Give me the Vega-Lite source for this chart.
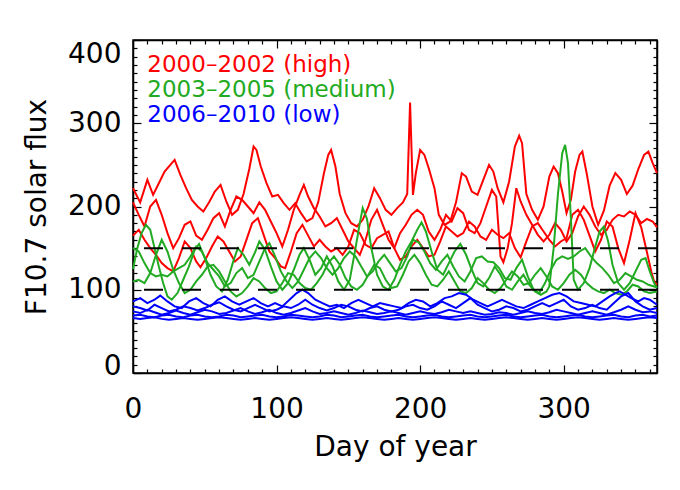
{
"$schema":"https://vega.github.io/schema/vega-lite/v6.json",
"width":524,"height":333,
"autosize":{"type":"none"},
"padding":{"left":133,"top":40,"right":23,"bottom":117},
"background":"white",
"config":{"view":{"stroke":"black","strokeWidth":1.5},
"axis":{"domainColor":"black","domainWidth":1.5,"tickColor":"black","tickWidth":1.2,"labelColor":"black","titleColor":"black","labelFont":"DejaVu Sans","titleFont":"DejaVu Sans","labelFontSize":28,"titleFontSize":28,"titleFontWeight":"normal","grid":false,"labelOverlap":false,"labelBound":false}},
"datasets":{
"flux":[
{"id":"r1","day":0,"flux":222},{"id":"r1","day":5,"flux":205},{"id":"r1","day":10,"flux":232},{"id":"r1","day":14,"flux":214},{"id":"r1","day":18,"flux":228},{"id":"r1","day":22,"flux":242},{"id":"r1","day":26,"flux":250},{"id":"r1","day":29,"flux":256},{"id":"r1","day":33,"flux":238},{"id":"r1","day":37,"flux":222},{"id":"r1","day":41,"flux":208},{"id":"r1","day":45,"flux":200},{"id":"r1","day":49,"flux":194},{"id":"r1","day":53,"flux":205},{"id":"r1","day":57,"flux":218},{"id":"r1","day":61,"flux":226},{"id":"r1","day":65,"flux":206},{"id":"r1","day":69,"flux":190},{"id":"r1","day":73,"flux":196},{"id":"r1","day":77,"flux":215},{"id":"r1","day":81,"flux":245},{"id":"r1","day":84,"flux":272},{"id":"r1","day":86,"flux":268},{"id":"r1","day":89,"flux":248},{"id":"r1","day":93,"flux":228},{"id":"r1","day":97,"flux":212},{"id":"r1","day":101,"flux":214},{"id":"r1","day":105,"flux":204},{"id":"r1","day":109,"flux":196},{"id":"r1","day":113,"flux":204},{"id":"r1","day":117,"flux":192},{"id":"r1","day":121,"flux":182},{"id":"r1","day":125,"flux":186},{"id":"r1","day":129,"flux":205},{"id":"r1","day":133,"flux":240},{"id":"r1","day":136,"flux":262},{"id":"r1","day":138,"flux":268},{"id":"r1","day":141,"flux":248},{"id":"r1","day":144,"flux":215},{"id":"r1","day":148,"flux":192},{"id":"r1","day":152,"flux":180},{"id":"r1","day":156,"flux":176},{"id":"r1","day":160,"flux":184},{"id":"r1","day":164,"flux":200},{"id":"r1","day":168,"flux":222},{"id":"r1","day":172,"flux":210},{"id":"r1","day":176,"flux":196},{"id":"r1","day":180,"flux":190},{"id":"r1","day":184,"flux":198},{"id":"r1","day":188,"flux":205},{"id":"r1","day":191,"flux":215},{"id":"r1","day":193,"flux":325},{"id":"r1","day":195,"flux":214},{"id":"r1","day":197,"flux":240},{"id":"r1","day":200,"flux":268},{"id":"r1","day":203,"flux":262},{"id":"r1","day":206,"flux":246},{"id":"r1","day":210,"flux":222},{"id":"r1","day":213,"flux":190},{"id":"r1","day":217,"flux":178},{"id":"r1","day":221,"flux":182},{"id":"r1","day":225,"flux":205},{"id":"r1","day":229,"flux":240},{"id":"r1","day":232,"flux":236},{"id":"r1","day":236,"flux":218},{"id":"r1","day":240,"flux":214},{"id":"r1","day":244,"flux":232},{"id":"r1","day":248,"flux":250},{"id":"r1","day":251,"flux":242},{"id":"r1","day":254,"flux":222},{"id":"r1","day":258,"flux":205},{"id":"r1","day":262,"flux":230},{"id":"r1","day":266,"flux":272},{"id":"r1","day":269,"flux":285},{"id":"r1","day":271,"flux":276},{"id":"r1","day":274,"flux":215},{"id":"r1","day":278,"flux":196},{"id":"r1","day":282,"flux":184},{"id":"r1","day":286,"flux":200},{"id":"r1","day":290,"flux":236},{"id":"r1","day":293,"flux":248},{"id":"r1","day":296,"flux":240},{"id":"r1","day":299,"flux":218},{"id":"r1","day":302,"flux":192},{"id":"r1","day":305,"flux":208},{"id":"r1","day":308,"flux":242},{"id":"r1","day":311,"flux":262},{"id":"r1","day":313,"flux":266},{"id":"r1","day":316,"flux":240},{"id":"r1","day":320,"flux":200},{"id":"r1","day":324,"flux":178},{"id":"r1","day":328,"flux":195},{"id":"r1","day":332,"flux":225},{"id":"r1","day":336,"flux":240},{"id":"r1","day":340,"flux":232},{"id":"r1","day":344,"flux":215},{"id":"r1","day":348,"flux":225},{"id":"r1","day":352,"flux":245},{"id":"r1","day":356,"flux":262},{"id":"r1","day":359,"flux":266},{"id":"r1","day":362,"flux":252},{"id":"r1","day":365,"flux":240},
{"id":"r2","day":0,"flux":205},{"id":"r2","day":4,"flux":190},{"id":"r2","day":8,"flux":176},{"id":"r2","day":12,"flux":200},{"id":"r2","day":16,"flux":208},{"id":"r2","day":20,"flux":190},{"id":"r2","day":24,"flux":168},{"id":"r2","day":28,"flux":150},{"id":"r2","day":32,"flux":162},{"id":"r2","day":36,"flux":178},{"id":"r2","day":40,"flux":182},{"id":"r2","day":44,"flux":165},{"id":"r2","day":48,"flux":160},{"id":"r2","day":52,"flux":172},{"id":"r2","day":56,"flux":186},{"id":"r2","day":60,"flux":192},{"id":"r2","day":64,"flux":176},{"id":"r2","day":68,"flux":196},{"id":"r2","day":72,"flux":212},{"id":"r2","day":76,"flux":208},{"id":"r2","day":80,"flux":200},{"id":"r2","day":84,"flux":192},{"id":"r2","day":88,"flux":205},{"id":"r2","day":92,"flux":196},{"id":"r2","day":96,"flux":182},{"id":"r2","day":100,"flux":168},{"id":"r2","day":104,"flux":152},{"id":"r2","day":108,"flux":172},{"id":"r2","day":112,"flux":196},{"id":"r2","day":116,"flux":214},{"id":"r2","day":119,"flux":226},{"id":"r2","day":122,"flux":212},{"id":"r2","day":126,"flux":198},{"id":"r2","day":130,"flux":188},{"id":"r2","day":134,"flux":176},{"id":"r2","day":138,"flux":180},{"id":"r2","day":142,"flux":186},{"id":"r2","day":146,"flux":172},{"id":"r2","day":150,"flux":158},{"id":"r2","day":154,"flux":150},{"id":"r2","day":158,"flux":142},{"id":"r2","day":162,"flux":160},{"id":"r2","day":166,"flux":184},{"id":"r2","day":170,"flux":196},{"id":"r2","day":174,"flux":178},{"id":"r2","day":178,"flux":160},{"id":"r2","day":182,"flux":150},{"id":"r2","day":186,"flux":168},{"id":"r2","day":190,"flux":178},{"id":"r2","day":194,"flux":190},{"id":"r2","day":198,"flux":196},{"id":"r2","day":202,"flux":190},{"id":"r2","day":206,"flux":170},{"id":"r2","day":210,"flux":160},{"id":"r2","day":214,"flux":172},{"id":"r2","day":218,"flux":190},{"id":"r2","day":222,"flux":182},{"id":"r2","day":226,"flux":198},{"id":"r2","day":230,"flux":192},{"id":"r2","day":234,"flux":172},{"id":"r2","day":238,"flux":168},{"id":"r2","day":242,"flux":180},{"id":"r2","day":246,"flux":200},{"id":"r2","day":250,"flux":220},{"id":"r2","day":253,"flux":212},{"id":"r2","day":256,"flux":140},{"id":"r2","day":258,"flux":133},{"id":"r2","day":261,"flux":150},{"id":"r2","day":264,"flux":180},{"id":"r2","day":267,"flux":222},{"id":"r2","day":270,"flux":206},{"id":"r2","day":274,"flux":190},{"id":"r2","day":278,"flux":178},{"id":"r2","day":282,"flux":166},{"id":"r2","day":286,"flux":158},{"id":"r2","day":290,"flux":166},{"id":"r2","day":294,"flux":180},{"id":"r2","day":298,"flux":172},{"id":"r2","day":302,"flux":158},{"id":"r2","day":306,"flux":168},{"id":"r2","day":310,"flux":188},{"id":"r2","day":314,"flux":200},{"id":"r2","day":318,"flux":190},{"id":"r2","day":322,"flux":176},{"id":"r2","day":326,"flux":166},{"id":"r2","day":330,"flux":172},{"id":"r2","day":334,"flux":184},{"id":"r2","day":338,"flux":190},{"id":"r2","day":342,"flux":188},{"id":"r2","day":346,"flux":194},{"id":"r2","day":350,"flux":190},{"id":"r2","day":354,"flux":180},{"id":"r2","day":358,"flux":185},{"id":"r2","day":362,"flux":182},{"id":"r2","day":365,"flux":175},
{"id":"r3","day":0,"flux":165},{"id":"r3","day":4,"flux":172},{"id":"r3","day":8,"flux":160},{"id":"r3","day":12,"flux":150},{"id":"r3","day":16,"flux":142},{"id":"r3","day":20,"flux":132},{"id":"r3","day":24,"flux":126},{"id":"r3","day":28,"flux":122},{"id":"r3","day":32,"flux":138},{"id":"r3","day":36,"flux":158},{"id":"r3","day":40,"flux":150},{"id":"r3","day":44,"flux":134},{"id":"r3","day":47,"flux":127},{"id":"r3","day":51,"flux":138},{"id":"r3","day":55,"flux":152},{"id":"r3","day":59,"flux":164},{"id":"r3","day":63,"flux":158},{"id":"r3","day":67,"flux":146},{"id":"r3","day":71,"flux":134},{"id":"r3","day":75,"flux":140},{"id":"r3","day":79,"flux":160},{"id":"r3","day":83,"flux":180},{"id":"r3","day":87,"flux":186},{"id":"r3","day":91,"flux":166},{"id":"r3","day":95,"flux":146},{"id":"r3","day":99,"flux":138},{"id":"r3","day":103,"flux":128},{"id":"r3","day":106,"flux":126},{"id":"r3","day":110,"flux":146},{"id":"r3","day":114,"flux":168},{"id":"r3","day":118,"flux":178},{"id":"r3","day":122,"flux":165},{"id":"r3","day":126,"flux":152},{"id":"r3","day":130,"flux":160},{"id":"r3","day":134,"flux":152},{"id":"r3","day":138,"flux":146},{"id":"r3","day":142,"flux":150},{"id":"r3","day":146,"flux":142},{"id":"r3","day":150,"flux":152},{"id":"r3","day":154,"flux":172},{"id":"r3","day":158,"flux":168},{"id":"r3","day":162,"flux":154},{"id":"r3","day":166,"flux":150},{"id":"r3","day":170,"flux":162},{"id":"r3","day":174,"flux":166},{"id":"r3","day":178,"flux":170},{"id":"r3","day":182,"flux":150},{"id":"r3","day":186,"flux":136},{"id":"r3","day":190,"flux":140},{"id":"r3","day":194,"flux":152},{"id":"r3","day":198,"flux":160},{"id":"r3","day":202,"flux":150},{"id":"r3","day":206,"flux":140},{"id":"r3","day":210,"flux":142},{"id":"r3","day":214,"flux":158},{"id":"r3","day":218,"flux":176},{"id":"r3","day":222,"flux":170},{"id":"r3","day":226,"flux":164},{"id":"r3","day":230,"flux":168},{"id":"r3","day":234,"flux":182},{"id":"r3","day":238,"flux":176},{"id":"r3","day":242,"flux":164},{"id":"r3","day":246,"flux":160},{"id":"r3","day":250,"flux":172},{"id":"r3","day":254,"flux":166},{"id":"r3","day":258,"flux":162},{"id":"r3","day":262,"flux":168},{"id":"r3","day":266,"flux":150},{"id":"r3","day":270,"flux":139},{"id":"r3","day":274,"flux":158},{"id":"r3","day":278,"flux":176},{"id":"r3","day":282,"flux":180},{"id":"r3","day":286,"flux":170},{"id":"r3","day":290,"flux":160},{"id":"r3","day":294,"flux":152},{"id":"r3","day":298,"flux":158},{"id":"r3","day":302,"flux":162},{"id":"r3","day":306,"flux":190},{"id":"r3","day":310,"flux":196},{"id":"r3","day":314,"flux":184},{"id":"r3","day":318,"flux":165},{"id":"r3","day":322,"flux":146},{"id":"r3","day":326,"flux":160},{"id":"r3","day":330,"flux":182},{"id":"r3","day":334,"flux":176},{"id":"r3","day":338,"flux":150},{"id":"r3","day":342,"flux":132},{"id":"r3","day":346,"flux":160},{"id":"r3","day":350,"flux":192},{"id":"r3","day":354,"flux":175},{"id":"r3","day":358,"flux":145},{"id":"r3","day":361,"flux":122},{"id":"r3","day":363,"flux":110},{"id":"r3","day":365,"flux":106},
{"id":"g1","day":0,"flux":125},{"id":"g1","day":3,"flux":150},{"id":"g1","day":6,"flux":168},{"id":"g1","day":9,"flux":178},{"id":"g1","day":12,"flux":172},{"id":"g1","day":15,"flux":150},{"id":"g1","day":18,"flux":128},{"id":"g1","day":21,"flux":108},{"id":"g1","day":24,"flux":92},{"id":"g1","day":27,"flux":88},{"id":"g1","day":31,"flux":96},{"id":"g1","day":35,"flux":112},{"id":"g1","day":39,"flux":128},{"id":"g1","day":43,"flux":148},{"id":"g1","day":46,"flux":155},{"id":"g1","day":50,"flux":138},{"id":"g1","day":54,"flux":118},{"id":"g1","day":58,"flux":104},{"id":"g1","day":62,"flux":98},{"id":"g1","day":66,"flux":112},{"id":"g1","day":70,"flux":135},{"id":"g1","day":73,"flux":150},{"id":"g1","day":77,"flux":142},{"id":"g1","day":81,"flux":130},{"id":"g1","day":85,"flux":145},{"id":"g1","day":88,"flux":158},{"id":"g1","day":92,"flux":148},{"id":"g1","day":96,"flux":128},{"id":"g1","day":100,"flux":110},{"id":"g1","day":104,"flux":100},{"id":"g1","day":108,"flux":108},{"id":"g1","day":112,"flux":124},{"id":"g1","day":116,"flux":142},{"id":"g1","day":119,"flux":150},{"id":"g1","day":123,"flux":136},{"id":"g1","day":127,"flux":118},{"id":"g1","day":131,"flux":126},{"id":"g1","day":135,"flux":140},{"id":"g1","day":139,"flux":128},{"id":"g1","day":143,"flux":110},{"id":"g1","day":147,"flux":100},{"id":"g1","day":151,"flux":112},{"id":"g1","day":155,"flux":150},{"id":"g1","day":158,"flux":180},{"id":"g1","day":160,"flux":198},{"id":"g1","day":163,"flux":185},{"id":"g1","day":166,"flux":150},{"id":"g1","day":170,"flux":118},{"id":"g1","day":174,"flux":104},{"id":"g1","day":178,"flux":100},{"id":"g1","day":182,"flux":112},{"id":"g1","day":186,"flux":130},{"id":"g1","day":190,"flux":146},{"id":"g1","day":194,"flux":158},{"id":"g1","day":198,"flux":172},{"id":"g1","day":201,"flux":181},{"id":"g1","day":204,"flux":170},{"id":"g1","day":208,"flux":146},{"id":"g1","day":212,"flux":124},{"id":"g1","day":216,"flux":118},{"id":"g1","day":220,"flux":132},{"id":"g1","day":224,"flux":146},{"id":"g1","day":228,"flux":155},{"id":"g1","day":232,"flux":142},{"id":"g1","day":236,"flux":124},{"id":"g1","day":240,"flux":108},{"id":"g1","day":244,"flux":104},{"id":"g1","day":248,"flux":114},{"id":"g1","day":252,"flux":128},{"id":"g1","day":256,"flux":118},{"id":"g1","day":260,"flux":104},{"id":"g1","day":264,"flux":100},{"id":"g1","day":268,"flux":110},{"id":"g1","day":272,"flux":118},{"id":"g1","day":276,"flux":106},{"id":"g1","day":280,"flux":98},{"id":"g1","day":284,"flux":94},{"id":"g1","day":288,"flux":98},{"id":"g1","day":290,"flux":104},{"id":"g1","day":293,"flux":150},{"id":"g1","day":296,"flux":215},{"id":"g1","day":299,"flux":264},{"id":"g1","day":301,"flux":274},{"id":"g1","day":303,"flux":252},{"id":"g1","day":305,"flux":186},{"id":"g1","day":307,"flux":112},{"id":"g1","day":310,"flux":100},{"id":"g1","day":314,"flux":108},{"id":"g1","day":318,"flux":126},{"id":"g1","day":322,"flux":152},{"id":"g1","day":325,"flux":170},{"id":"g1","day":328,"flux":176},{"id":"g1","day":331,"flux":158},{"id":"g1","day":334,"flux":130},{"id":"g1","day":338,"flux":108},{"id":"g1","day":342,"flux":100},{"id":"g1","day":346,"flux":108},{"id":"g1","day":350,"flux":122},{"id":"g1","day":354,"flux":136},{"id":"g1","day":357,"flux":138},{"id":"g1","day":360,"flux":122},{"id":"g1","day":363,"flux":108},{"id":"g1","day":365,"flux":102},
{"id":"g2","day":0,"flux":150},{"id":"g2","day":4,"flux":146},{"id":"g2","day":8,"flux":132},{"id":"g2","day":12,"flux":120},{"id":"g2","day":16,"flux":116},{"id":"g2","day":20,"flux":118},{"id":"g2","day":24,"flux":116},{"id":"g2","day":28,"flux":122},{"id":"g2","day":32,"flux":126},{"id":"g2","day":36,"flux":130},{"id":"g2","day":40,"flux":140},{"id":"g2","day":44,"flux":152},{"id":"g2","day":48,"flux":146},{"id":"g2","day":52,"flux":132},{"id":"g2","day":56,"flux":124},{"id":"g2","day":60,"flux":116},{"id":"g2","day":64,"flux":104},{"id":"g2","day":68,"flux":108},{"id":"g2","day":72,"flux":120},{"id":"g2","day":76,"flux":126},{"id":"g2","day":80,"flux":114},{"id":"g2","day":84,"flux":118},{"id":"g2","day":88,"flux":134},{"id":"g2","day":92,"flux":150},{"id":"g2","day":95,"flux":156},{"id":"g2","day":99,"flux":140},{"id":"g2","day":103,"flux":122},{"id":"g2","day":107,"flux":110},{"id":"g2","day":111,"flux":102},{"id":"g2","day":115,"flux":110},{"id":"g2","day":119,"flux":124},{"id":"g2","day":123,"flux":138},{"id":"g2","day":127,"flux":146},{"id":"g2","day":131,"flux":138},{"id":"g2","day":135,"flux":126},{"id":"g2","day":139,"flux":118},{"id":"g2","day":143,"flux":126},{"id":"g2","day":147,"flux":138},{"id":"g2","day":151,"flux":146},{"id":"g2","day":155,"flux":140},{"id":"g2","day":159,"flux":128},{"id":"g2","day":163,"flux":116},{"id":"g2","day":167,"flux":122},{"id":"g2","day":171,"flux":134},{"id":"g2","day":175,"flux":142},{"id":"g2","day":179,"flux":132},{"id":"g2","day":183,"flux":122},{"id":"g2","day":187,"flux":126},{"id":"g2","day":191,"flux":140},{"id":"g2","day":195,"flux":160},{"id":"g2","day":199,"flux":157},{"id":"g2","day":203,"flux":146},{"id":"g2","day":207,"flux":132},{"id":"g2","day":211,"flux":124},{"id":"g2","day":215,"flux":134},{"id":"g2","day":219,"flux":142},{"id":"g2","day":223,"flux":128},{"id":"g2","day":227,"flux":116},{"id":"g2","day":231,"flux":110},{"id":"g2","day":235,"flux":122},{"id":"g2","day":239,"flux":138},{"id":"g2","day":243,"flux":140},{"id":"g2","day":247,"flux":134},{"id":"g2","day":251,"flux":133},{"id":"g2","day":255,"flux":126},{"id":"g2","day":259,"flux":114},{"id":"g2","day":263,"flux":112},{"id":"g2","day":267,"flux":126},{"id":"g2","day":271,"flux":136},{"id":"g2","day":275,"flux":116},{"id":"g2","day":279,"flux":100},{"id":"g2","day":283,"flux":96},{"id":"g2","day":287,"flux":108},{"id":"g2","day":291,"flux":124},{"id":"g2","day":295,"flux":136},{"id":"g2","day":299,"flux":140},{"id":"g2","day":303,"flux":137},{"id":"g2","day":307,"flux":140},{"id":"g2","day":311,"flux":146},{"id":"g2","day":315,"flux":150},{"id":"g2","day":319,"flux":140},{"id":"g2","day":323,"flux":132},{"id":"g2","day":327,"flux":126},{"id":"g2","day":331,"flux":118},{"id":"g2","day":335,"flux":108},{"id":"g2","day":339,"flux":112},{"id":"g2","day":343,"flux":120},{"id":"g2","day":347,"flux":116},{"id":"g2","day":351,"flux":112},{"id":"g2","day":355,"flux":110},{"id":"g2","day":359,"flux":106},{"id":"g2","day":363,"flux":104},{"id":"g2","day":365,"flux":103},
{"id":"g3","day":0,"flux":110},{"id":"g3","day":4,"flux":112},{"id":"g3","day":8,"flux":108},{"id":"g3","day":12,"flux":120},{"id":"g3","day":16,"flux":142},{"id":"g3","day":20,"flux":160},{"id":"g3","day":24,"flux":146},{"id":"g3","day":28,"flux":124},{"id":"g3","day":32,"flux":108},{"id":"g3","day":36,"flux":96},{"id":"g3","day":40,"flux":100},{"id":"g3","day":44,"flux":110},{"id":"g3","day":48,"flux":118},{"id":"g3","day":52,"flux":128},{"id":"g3","day":56,"flux":130},{"id":"g3","day":60,"flux":122},{"id":"g3","day":64,"flux":110},{"id":"g3","day":68,"flux":98},{"id":"g3","day":72,"flux":92},{"id":"g3","day":76,"flux":96},{"id":"g3","day":80,"flux":104},{"id":"g3","day":84,"flux":114},{"id":"g3","day":88,"flux":110},{"id":"g3","day":92,"flux":102},{"id":"g3","day":96,"flux":96},{"id":"g3","day":100,"flux":98},{"id":"g3","day":104,"flux":108},{"id":"g3","day":108,"flux":120},{"id":"g3","day":112,"flux":118},{"id":"g3","day":116,"flux":108},{"id":"g3","day":120,"flux":102},{"id":"g3","day":124,"flux":100},{"id":"g3","day":128,"flux":108},{"id":"g3","day":132,"flux":118},{"id":"g3","day":136,"flux":132},{"id":"g3","day":140,"flux":140},{"id":"g3","day":144,"flux":130},{"id":"g3","day":148,"flux":114},{"id":"g3","day":152,"flux":104},{"id":"g3","day":156,"flux":100},{"id":"g3","day":160,"flux":106},{"id":"g3","day":164,"flux":118},{"id":"g3","day":168,"flux":130},{"id":"g3","day":172,"flux":126},{"id":"g3","day":176,"flux":112},{"id":"g3","day":180,"flux":102},{"id":"g3","day":184,"flux":104},{"id":"g3","day":188,"flux":118},{"id":"g3","day":192,"flux":134},{"id":"g3","day":196,"flux":142},{"id":"g3","day":200,"flux":132},{"id":"g3","day":204,"flux":118},{"id":"g3","day":208,"flux":106},{"id":"g3","day":212,"flux":104},{"id":"g3","day":216,"flux":112},{"id":"g3","day":220,"flux":122},{"id":"g3","day":224,"flux":110},{"id":"g3","day":228,"flux":98},{"id":"g3","day":232,"flux":96},{"id":"g3","day":236,"flux":102},{"id":"g3","day":240,"flux":114},{"id":"g3","day":244,"flux":108},{"id":"g3","day":248,"flux":100},{"id":"g3","day":252,"flux":96},{"id":"g3","day":256,"flux":102},{"id":"g3","day":260,"flux":112},{"id":"g3","day":264,"flux":122},{"id":"g3","day":268,"flux":116},{"id":"g3","day":272,"flux":106},{"id":"g3","day":276,"flux":108},{"id":"g3","day":280,"flux":118},{"id":"g3","day":284,"flux":126},{"id":"g3","day":288,"flux":116},{"id":"g3","day":292,"flux":104},{"id":"g3","day":296,"flux":100},{"id":"g3","day":300,"flux":108},{"id":"g3","day":304,"flux":118},{"id":"g3","day":308,"flux":124},{"id":"g3","day":312,"flux":118},{"id":"g3","day":316,"flux":108},{"id":"g3","day":320,"flux":102},{"id":"g3","day":324,"flux":98},{"id":"g3","day":328,"flux":96},{"id":"g3","day":332,"flux":100},{"id":"g3","day":336,"flux":96},{"id":"g3","day":340,"flux":94},{"id":"g3","day":344,"flux":98},{"id":"g3","day":348,"flux":106},{"id":"g3","day":352,"flux":104},{"id":"g3","day":356,"flux":98},{"id":"g3","day":360,"flux":96},{"id":"g3","day":365,"flux":98},
{"id":"b1","day":0,"flux":86},{"id":"b1","day":5,"flux":90},{"id":"b1","day":10,"flux":84},{"id":"b1","day":15,"flux":88},{"id":"b1","day":19,"flux":93},{"id":"b1","day":24,"flux":86},{"id":"b1","day":29,"flux":80},{"id":"b1","day":34,"flux":78},{"id":"b1","day":39,"flux":86},{"id":"b1","day":44,"flux":90},{"id":"b1","day":49,"flux":84},{"id":"b1","day":54,"flux":80},{"id":"b1","day":59,"flux":88},{"id":"b1","day":64,"flux":92},{"id":"b1","day":69,"flux":86},{"id":"b1","day":74,"flux":82},{"id":"b1","day":79,"flux":86},{"id":"b1","day":84,"flux":90},{"id":"b1","day":89,"flux":84},{"id":"b1","day":94,"flux":80},{"id":"b1","day":99,"flux":84},{"id":"b1","day":104,"flux":80},{"id":"b1","day":109,"flux":88},{"id":"b1","day":114,"flux":96},{"id":"b1","day":118,"flux":100},{"id":"b1","day":122,"flux":96},{"id":"b1","day":127,"flux":88},{"id":"b1","day":132,"flux":84},{"id":"b1","day":137,"flux":80},{"id":"b1","day":142,"flux":82},{"id":"b1","day":147,"flux":78},{"id":"b1","day":152,"flux":84},{"id":"b1","day":157,"flux":88},{"id":"b1","day":162,"flux":84},{"id":"b1","day":167,"flux":80},{"id":"b1","day":172,"flux":84},{"id":"b1","day":177,"flux":82},{"id":"b1","day":182,"flux":80},{"id":"b1","day":187,"flux":78},{"id":"b1","day":192,"flux":84},{"id":"b1","day":197,"flux":88},{"id":"b1","day":202,"flux":86},{"id":"b1","day":207,"flux":80},{"id":"b1","day":212,"flux":84},{"id":"b1","day":217,"flux":90},{"id":"b1","day":222,"flux":92},{"id":"b1","day":227,"flux":96},{"id":"b1","day":232,"flux":94},{"id":"b1","day":237,"flux":88},{"id":"b1","day":242,"flux":84},{"id":"b1","day":247,"flux":80},{"id":"b1","day":252,"flux":84},{"id":"b1","day":257,"flux":88},{"id":"b1","day":262,"flux":84},{"id":"b1","day":267,"flux":80},{"id":"b1","day":272,"flux":78},{"id":"b1","day":277,"flux":82},{"id":"b1","day":282,"flux":86},{"id":"b1","day":287,"flux":90},{"id":"b1","day":292,"flux":94},{"id":"b1","day":297,"flux":96},{"id":"b1","day":302,"flux":92},{"id":"b1","day":307,"flux":86},{"id":"b1","day":312,"flux":84},{"id":"b1","day":317,"flux":82},{"id":"b1","day":322,"flux":80},{"id":"b1","day":327,"flux":86},{"id":"b1","day":332,"flux":92},{"id":"b1","day":336,"flux":96},{"id":"b1","day":339,"flux":98},{"id":"b1","day":343,"flux":94},{"id":"b1","day":347,"flux":90},{"id":"b1","day":352,"flux":86},{"id":"b1","day":356,"flux":90},{"id":"b1","day":360,"flux":88},{"id":"b1","day":365,"flux":82},
{"id":"b2","day":0,"flux":80},{"id":"b2","day":5,"flux":78},{"id":"b2","day":10,"flux":75},{"id":"b2","day":15,"flux":82},{"id":"b2","day":20,"flux":78},{"id":"b2","day":25,"flux":74},{"id":"b2","day":30,"flux":76},{"id":"b2","day":35,"flux":80},{"id":"b2","day":40,"flux":78},{"id":"b2","day":45,"flux":75},{"id":"b2","day":50,"flux":78},{"id":"b2","day":55,"flux":82},{"id":"b2","day":60,"flux":85},{"id":"b2","day":65,"flux":80},{"id":"b2","day":70,"flux":76},{"id":"b2","day":75,"flux":74},{"id":"b2","day":80,"flux":78},{"id":"b2","day":85,"flux":82},{"id":"b2","day":90,"flux":78},{"id":"b2","day":95,"flux":74},{"id":"b2","day":100,"flux":76},{"id":"b2","day":105,"flux":80},{"id":"b2","day":110,"flux":78},{"id":"b2","day":115,"flux":82},{"id":"b2","day":120,"flux":88},{"id":"b2","day":125,"flux":82},{"id":"b2","day":130,"flux":78},{"id":"b2","day":135,"flux":75},{"id":"b2","day":140,"flux":78},{"id":"b2","day":145,"flux":82},{"id":"b2","day":150,"flux":80},{"id":"b2","day":155,"flux":76},{"id":"b2","day":160,"flux":74},{"id":"b2","day":165,"flux":78},{"id":"b2","day":170,"flux":80},{"id":"b2","day":175,"flux":76},{"id":"b2","day":180,"flux":74},{"id":"b2","day":185,"flux":76},{"id":"b2","day":190,"flux":80},{"id":"b2","day":195,"flux":82},{"id":"b2","day":200,"flux":78},{"id":"b2","day":205,"flux":76},{"id":"b2","day":210,"flux":80},{"id":"b2","day":215,"flux":86},{"id":"b2","day":220,"flux":82},{"id":"b2","day":225,"flux":78},{"id":"b2","day":230,"flux":84},{"id":"b2","day":235,"flux":90},{"id":"b2","day":240,"flux":82},{"id":"b2","day":245,"flux":78},{"id":"b2","day":250,"flux":74},{"id":"b2","day":255,"flux":76},{"id":"b2","day":260,"flux":80},{"id":"b2","day":265,"flux":78},{"id":"b2","day":270,"flux":74},{"id":"b2","day":275,"flux":76},{"id":"b2","day":280,"flux":80},{"id":"b2","day":285,"flux":84},{"id":"b2","day":290,"flux":80},{"id":"b2","day":295,"flux":84},{"id":"b2","day":300,"flux":88},{"id":"b2","day":305,"flux":80},{"id":"b2","day":310,"flux":76},{"id":"b2","day":315,"flux":78},{"id":"b2","day":320,"flux":82},{"id":"b2","day":325,"flux":78},{"id":"b2","day":330,"flux":76},{"id":"b2","day":335,"flux":84},{"id":"b2","day":340,"flux":92},{"id":"b2","day":345,"flux":96},{"id":"b2","day":350,"flux":86},{"id":"b2","day":355,"flux":80},{"id":"b2","day":360,"flux":76},{"id":"b2","day":365,"flux":78},
{"id":"b3","day":0,"flux":74},{"id":"b3","day":5,"flux":72},{"id":"b3","day":10,"flux":76},{"id":"b3","day":15,"flux":73},{"id":"b3","day":20,"flux":70},{"id":"b3","day":25,"flux":72},{"id":"b3","day":30,"flux":75},{"id":"b3","day":35,"flux":72},{"id":"b3","day":40,"flux":70},{"id":"b3","day":45,"flux":73},{"id":"b3","day":50,"flux":76},{"id":"b3","day":55,"flux":74},{"id":"b3","day":60,"flux":71},{"id":"b3","day":65,"flux":72},{"id":"b3","day":70,"flux":75},{"id":"b3","day":75,"flux":78},{"id":"b3","day":80,"flux":74},{"id":"b3","day":85,"flux":71},{"id":"b3","day":90,"flux":73},{"id":"b3","day":95,"flux":76},{"id":"b3","day":100,"flux":72},{"id":"b3","day":105,"flux":70},{"id":"b3","day":110,"flux":72},{"id":"b3","day":115,"flux":75},{"id":"b3","day":120,"flux":78},{"id":"b3","day":125,"flux":74},{"id":"b3","day":130,"flux":71},{"id":"b3","day":135,"flux":72},{"id":"b3","day":140,"flux":74},{"id":"b3","day":145,"flux":72},{"id":"b3","day":150,"flux":70},{"id":"b3","day":155,"flux":72},{"id":"b3","day":160,"flux":75},{"id":"b3","day":165,"flux":73},{"id":"b3","day":170,"flux":71},{"id":"b3","day":175,"flux":72},{"id":"b3","day":180,"flux":74},{"id":"b3","day":185,"flux":72},{"id":"b3","day":190,"flux":70},{"id":"b3","day":195,"flux":72},{"id":"b3","day":200,"flux":74},{"id":"b3","day":205,"flux":72},{"id":"b3","day":210,"flux":71},{"id":"b3","day":215,"flux":73},{"id":"b3","day":220,"flux":76},{"id":"b3","day":225,"flux":74},{"id":"b3","day":230,"flux":72},{"id":"b3","day":235,"flux":74},{"id":"b3","day":240,"flux":72},{"id":"b3","day":245,"flux":70},{"id":"b3","day":250,"flux":71},{"id":"b3","day":255,"flux":73},{"id":"b3","day":260,"flux":72},{"id":"b3","day":265,"flux":70},{"id":"b3","day":270,"flux":72},{"id":"b3","day":275,"flux":74},{"id":"b3","day":280,"flux":72},{"id":"b3","day":285,"flux":71},{"id":"b3","day":290,"flux":73},{"id":"b3","day":295,"flux":76},{"id":"b3","day":300,"flux":74},{"id":"b3","day":305,"flux":72},{"id":"b3","day":310,"flux":70},{"id":"b3","day":315,"flux":72},{"id":"b3","day":320,"flux":74},{"id":"b3","day":325,"flux":72},{"id":"b3","day":330,"flux":70},{"id":"b3","day":335,"flux":73},{"id":"b3","day":340,"flux":76},{"id":"b3","day":345,"flux":80},{"id":"b3","day":350,"flux":76},{"id":"b3","day":355,"flux":73},{"id":"b3","day":360,"flux":74},{"id":"b3","day":365,"flux":72},
{"id":"b4","day":0,"flux":69},{"id":"b4","day":5,"flux":70},{"id":"b4","day":10,"flux":68},{"id":"b4","day":15,"flux":67},{"id":"b4","day":20,"flux":69},{"id":"b4","day":25,"flux":70},{"id":"b4","day":30,"flux":68},{"id":"b4","day":35,"flux":67},{"id":"b4","day":40,"flux":69},{"id":"b4","day":45,"flux":70},{"id":"b4","day":50,"flux":68},{"id":"b4","day":55,"flux":67},{"id":"b4","day":60,"flux":68},{"id":"b4","day":65,"flux":70},{"id":"b4","day":70,"flux":69},{"id":"b4","day":75,"flux":67},{"id":"b4","day":80,"flux":68},{"id":"b4","day":85,"flux":69},{"id":"b4","day":90,"flux":70},{"id":"b4","day":95,"flux":68},{"id":"b4","day":100,"flux":67},{"id":"b4","day":105,"flux":68},{"id":"b4","day":110,"flux":70},{"id":"b4","day":115,"flux":69},{"id":"b4","day":120,"flux":68},{"id":"b4","day":125,"flux":67},{"id":"b4","day":130,"flux":68},{"id":"b4","day":135,"flux":70},{"id":"b4","day":140,"flux":69},{"id":"b4","day":145,"flux":67},{"id":"b4","day":150,"flux":68},{"id":"b4","day":155,"flux":69},{"id":"b4","day":160,"flux":70},{"id":"b4","day":165,"flux":68},{"id":"b4","day":170,"flux":67},{"id":"b4","day":175,"flux":68},{"id":"b4","day":180,"flux":69},{"id":"b4","day":185,"flux":70},{"id":"b4","day":190,"flux":68},{"id":"b4","day":195,"flux":67},{"id":"b4","day":200,"flux":68},{"id":"b4","day":205,"flux":69},{"id":"b4","day":210,"flux":70},{"id":"b4","day":215,"flux":68},{"id":"b4","day":220,"flux":67},{"id":"b4","day":225,"flux":68},{"id":"b4","day":230,"flux":69},{"id":"b4","day":235,"flux":70},{"id":"b4","day":240,"flux":68},{"id":"b4","day":245,"flux":67},{"id":"b4","day":250,"flux":68},{"id":"b4","day":255,"flux":69},{"id":"b4","day":260,"flux":70},{"id":"b4","day":265,"flux":68},{"id":"b4","day":270,"flux":67},{"id":"b4","day":275,"flux":68},{"id":"b4","day":280,"flux":69},{"id":"b4","day":285,"flux":70},{"id":"b4","day":290,"flux":68},{"id":"b4","day":295,"flux":67},{"id":"b4","day":300,"flux":68},{"id":"b4","day":305,"flux":69},{"id":"b4","day":310,"flux":70},{"id":"b4","day":315,"flux":68},{"id":"b4","day":320,"flux":67},{"id":"b4","day":325,"flux":68},{"id":"b4","day":330,"flux":69},{"id":"b4","day":335,"flux":70},{"id":"b4","day":340,"flux":68},{"id":"b4","day":345,"flux":67},{"id":"b4","day":350,"flux":69},{"id":"b4","day":355,"flux":70},{"id":"b4","day":360,"flux":68},{"id":"b4","day":365,"flux":69},
{"id":"b5","day":0,"flux":66},{"id":"b5","day":5,"flux":65},{"id":"b5","day":10,"flux":66},{"id":"b5","day":15,"flux":67},{"id":"b5","day":20,"flux":65},{"id":"b5","day":25,"flux":64},{"id":"b5","day":30,"flux":65},{"id":"b5","day":35,"flux":66},{"id":"b5","day":40,"flux":65},{"id":"b5","day":45,"flux":64},{"id":"b5","day":50,"flux":65},{"id":"b5","day":55,"flux":66},{"id":"b5","day":60,"flux":67},{"id":"b5","day":65,"flux":66},{"id":"b5","day":70,"flux":65},{"id":"b5","day":75,"flux":64},{"id":"b5","day":80,"flux":65},{"id":"b5","day":85,"flux":66},{"id":"b5","day":90,"flux":65},{"id":"b5","day":95,"flux":64},{"id":"b5","day":100,"flux":65},{"id":"b5","day":105,"flux":66},{"id":"b5","day":110,"flux":67},{"id":"b5","day":115,"flux":66},{"id":"b5","day":120,"flux":65},{"id":"b5","day":125,"flux":64},{"id":"b5","day":130,"flux":65},{"id":"b5","day":135,"flux":66},{"id":"b5","day":140,"flux":65},{"id":"b5","day":145,"flux":64},{"id":"b5","day":150,"flux":65},{"id":"b5","day":155,"flux":66},{"id":"b5","day":160,"flux":67},{"id":"b5","day":165,"flux":66},{"id":"b5","day":170,"flux":65},{"id":"b5","day":175,"flux":64},{"id":"b5","day":180,"flux":65},{"id":"b5","day":185,"flux":66},{"id":"b5","day":190,"flux":65},{"id":"b5","day":195,"flux":64},{"id":"b5","day":200,"flux":65},{"id":"b5","day":205,"flux":66},{"id":"b5","day":210,"flux":67},{"id":"b5","day":215,"flux":66},{"id":"b5","day":220,"flux":65},{"id":"b5","day":225,"flux":64},{"id":"b5","day":230,"flux":65},{"id":"b5","day":235,"flux":66},{"id":"b5","day":240,"flux":65},{"id":"b5","day":245,"flux":64},{"id":"b5","day":250,"flux":65},{"id":"b5","day":255,"flux":66},{"id":"b5","day":260,"flux":67},{"id":"b5","day":265,"flux":66},{"id":"b5","day":270,"flux":65},{"id":"b5","day":275,"flux":64},{"id":"b5","day":280,"flux":65},{"id":"b5","day":285,"flux":66},{"id":"b5","day":290,"flux":65},{"id":"b5","day":295,"flux":64},{"id":"b5","day":300,"flux":65},{"id":"b5","day":305,"flux":66},{"id":"b5","day":310,"flux":67},{"id":"b5","day":315,"flux":66},{"id":"b5","day":320,"flux":65},{"id":"b5","day":325,"flux":64},{"id":"b5","day":330,"flux":65},{"id":"b5","day":335,"flux":66},{"id":"b5","day":340,"flux":65},{"id":"b5","day":345,"flux":64},{"id":"b5","day":350,"flux":65},{"id":"b5","day":355,"flux":66},{"id":"b5","day":360,"flux":67},{"id":"b5","day":365,"flux":66}
],
"refs":[{"flux":100},{"flux":150}],
"labels":[{"id":"r1","day":10,"flux":370,"label":"2000–2002 (high)"},{"id":"g1","day":10,"flux":340,"label":"2003–2005 (medium)"},{"id":"b1","day":10,"flux":310,"label":"2006–2010 (low)"}]
},
"layer":[
{"data":{"name":"flux"},
"mark":{"type":"line","strokeWidth":2},
"encoding":{
"x":{"field":"day","type":"quantitative","scale":{"domain":[0,365],"nice":false,"zero":false},
"axis":{"orient":"bottom","title":"Day of year","values":[0,10,20,30,40,50,60,70,80,90,100,110,120,130,140,150,160,170,180,190,200,210,220,230,240,250,260,270,280,290,300,310,320,330,340,350,360],
"labelExpr":"datum.value % 100 === 0 ? datum.label : ''","labelFlush":false,"tickSize":{"condition":{"test":"datum.value % 100 === 0","value":-8},"value":-4},"labelPadding":30,"titlePadding":6}},
"y":{"field":"flux","type":"quantitative","scale":{"domain":[0,400],"nice":false},
"axis":{"orient":"left","title":"F10.7 solar flux","values":[0,10,20,30,40,50,60,70,80,90,100,110,120,130,140,150,160,170,180,190,200,210,220,230,240,250,260,270,280,290,300,310,320,330,340,350,360,370,380,390,400],
"labelExpr":"datum.value % 100 === 0 ? datum.label : ''","tickSize":{"condition":{"test":"datum.value % 100 === 0","value":-8},"value":-4},"labelPadding":20,"labelFlush":true,"labelOffset":{"condition":{"test":"datum.value === 0","value":7},"value":0},"titlePadding":16}},
"color":{"field":"id","type":"nominal","scale":{"domain":["r1","r2","r3","g1","g2","g3","b1","b2","b3","b4","b5"],"range":["#ff0000","#ff0000","#ff0000","#22aa22","#22aa22","#22aa22","#0000ff","#0000ff","#0000ff","#0000ff","#0000ff"]},"legend":null},
"detail":{"field":"id"}}},
{"data":{"name":"refs"},
"mark":{"type":"rule","strokeDash":[19,19],"strokeWidth":2,"color":"black"},
"encoding":{"y":{"field":"flux","type":"quantitative","scale":{"domain":[0,400],"nice":false},"axis":null}}},
{"data":{"name":"labels"},
"mark":{"type":"text","align":"left","baseline":"middle","font":"DejaVu Sans","fontSize":23},
"encoding":{
"x":{"field":"day","type":"quantitative","scale":{"domain":[0,365],"nice":false,"zero":false},
"axis":{"orient":"top","title":null,"labels":false,"values":[0,10,20,30,40,50,60,70,80,90,100,110,120,130,140,150,160,170,180,190,200,210,220,230,240,250,260,270,280,290,300,310,320,330,340,350,360],"tickSize":{"condition":{"test":"datum.value % 100 === 0","value":-8},"value":-4}}},
"y":{"field":"flux","type":"quantitative","scale":{"domain":[0,400],"nice":false},
"axis":{"orient":"right","title":null,"labels":false,"values":[0,10,20,30,40,50,60,70,80,90,100,110,120,130,140,150,160,170,180,190,200,210,220,230,240,250,260,270,280,290,300,310,320,330,340,350,360,370,380,390,400],"tickSize":{"condition":{"test":"datum.value % 100 === 0","value":-8},"value":-4}}},
"text":{"field":"label"},
"color":{"field":"id","type":"nominal","legend":null}}}
],
"resolve":{"axis":{"x":"independent","y":"independent"}}
}
